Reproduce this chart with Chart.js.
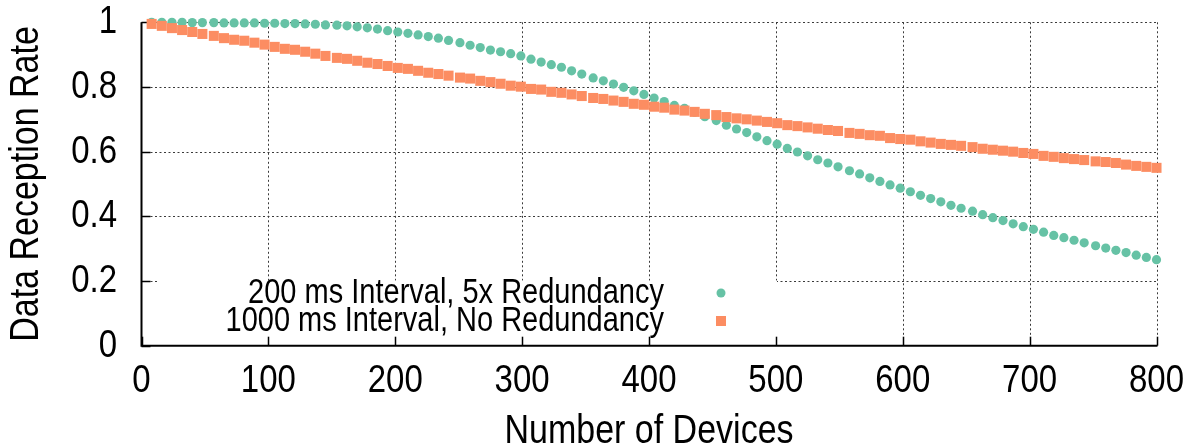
<!DOCTYPE html>
<html>
<head>
<meta charset="utf-8">
<script src="https://cdn.jsdelivr.net/npm/chart.js@4.4.1/dist/chart.umd.min.js"></script>
<style>
  html, body { margin: 0; padding: 0; background: #fff; }
  #wrap { width: 1197px; height: 447px; }
</style>
</head>
<body>
<div id="wrap"><canvas id="myChart" width="1197" height="447"></canvas></div>
<script>
// Number of devices (x positions of the samples)
var devices = [8, 16, 24, 32, 40, 48, 57, 65, 73, 81, 89, 97, 105, 113, 121, 129, 137, 145, 154, 162,
    170, 178, 186, 194, 202, 210, 218, 226, 234, 242, 251, 259, 267, 275, 283, 291, 299, 307, 315, 323,
    331, 339, 347, 356, 364, 372, 380, 388, 396, 404, 412, 420, 428, 436, 444, 453, 461, 469, 477, 485,
    493, 501, 509, 517, 525, 533, 541, 549, 558, 566, 574, 582, 590, 598, 606, 614, 622, 630, 638, 646,
    655, 663, 671, 679, 687, 695, 703, 711, 719, 727, 735, 743, 752, 760, 768, 776, 784, 792, 800];

// 200 ms Interval, 5x Redundancy
var rate200ms = [1.000, 1.000, 1.000, 1.000, 0.999, 0.999, 0.999, 0.998, 0.998, 0.998, 0.998, 0.997, 0.997, 0.996,
    0.996, 0.995, 0.994, 0.992, 0.991, 0.989, 0.986, 0.983, 0.979, 0.974, 0.970, 0.966, 0.961, 0.956, 0.951,
    0.944, 0.937, 0.929, 0.922,
    0.914, 0.909, 0.903, 0.896, 0.886, 0.877, 0.869, 0.861, 0.850, 0.840,
    0.828, 0.819, 0.809, 0.799, 0.788, 0.777, 0.766, 0.755, 0.743, 0.734, 0.722, 0.708, 0.696,
    0.682, 0.670, 0.659, 0.646, 0.634, 0.623, 0.610, 0.599, 0.587, 0.575, 0.565, 0.553, 0.541, 0.531, 0.519,
    0.508, 0.497, 0.487, 0.476, 0.465, 0.455, 0.445, 0.434, 0.425, 0.416, 0.405, 0.396, 0.387, 0.377,
    0.368, 0.360, 0.351, 0.341, 0.334, 0.326, 0.318, 0.309, 0.302, 0.295, 0.288, 0.280, 0.273, 0.266];

// 1000 ms Interval, No Redundancy
var rate1000ms = [0.995, 0.989, 0.982, 0.976, 0.970, 0.964, 0.958, 0.951, 0.946, 0.943, 0.937, 0.931, 0.924, 0.918,
    0.915, 0.909, 0.903, 0.896, 0.890, 0.887, 0.881, 0.875, 0.871, 0.865, 0.859, 0.856, 0.850, 0.844, 0.840,
    0.835, 0.829, 0.826, 0.819, 0.815, 0.810, 0.804, 0.801, 0.794, 0.792, 0.785, 0.782, 0.777, 0.772,
    0.766, 0.763, 0.758, 0.754, 0.748, 0.745, 0.739, 0.736, 0.730, 0.727, 0.723, 0.717, 0.713, 0.707,
    0.703, 0.700, 0.696, 0.692, 0.688, 0.682, 0.679, 0.675, 0.671, 0.667, 0.664, 0.658, 0.655, 0.651,
    0.649, 0.642, 0.639, 0.637, 0.632, 0.628, 0.624, 0.621, 0.618, 0.614, 0.609, 0.606, 0.603, 0.600,
    0.596, 0.593, 0.587, 0.584, 0.580, 0.577, 0.574, 0.570, 0.568, 0.565, 0.560, 0.556, 0.553, 0.550];

var seriesNames = ["200 ms Interval, 5x Redundancy", "1000 ms Interval, No Redundancy"];
var xTicks = [0, 100, 200, 300, 400, 500, 600, 700, 800];
var yTicks = [0, 0.2, 0.4, 0.6, 0.8, 1];
var yTickLabels = ["0", "0.2", "0.4", "0.6", "0.8", "1"];
var xTitle = "Number of Devices";
var yTitle = "Data Reception Rate";

var greenColor = "#66c2a5";
var orangeColor = "#fc8d62";
var fontFamily = "'Liberation Sans', Arial, Helvetica, sans-serif";
// gnuplot's text is a bit taller than the plain font
var textStretch = 1.2;

function toPoints(values) {
    var pts = [];
    for (var i = 0; i < devices.length; i++) {
        pts.push({ x: devices[i], y: values[i] });
    }
    return pts;
}

function tallText(ctx, text, x, y, angle) {
    ctx.save();
    ctx.translate(x, y);
    if (angle) ctx.rotate(angle);
    ctx.scale(1, textStretch);
    ctx.fillText(text, 0, 0);
    ctx.restore();
}

// gnuplot style frame: dotted grid, opaque key box, L-shaped border, inward ticks
var gnuplotFrame = {
    id: "gnuplotFrame",
    beforeDatasetsDraw: function(chart) {
        var ctx = chart.ctx;
        var area = chart.chartArea;
        var xs = chart.scales.x;
        var ys = chart.scales.y;
        ctx.save();

        // grid
        ctx.strokeStyle = "#3a3a3a";
        ctx.lineWidth = 1;
        ctx.setLineDash([2, 2.5]);
        xTicks.forEach(function(v) {
            if (v === 0) return;
            var px = Math.round(xs.getPixelForValue(v)) + 0.5;
            ctx.beginPath();
            ctx.moveTo(px, area.top);
            ctx.lineTo(px, area.bottom);
            ctx.stroke();
        });
        yTicks.forEach(function(v) {
            if (v === 0) return;
            var py = Math.round(ys.getPixelForValue(v)) + 0.5;
            ctx.beginPath();
            ctx.moveTo(area.left, py);
            ctx.lineTo(area.right, py);
            ctx.stroke();
        });
        ctx.setLineDash([]);

        // opaque key box
        var keyTop = ys.getPixelForValue(0.2) - 0.5;
        ctx.fillStyle = "#fff";
        ctx.fillRect(159, keyTop, 777 - 159, area.bottom - keyTop);

        // border (left + bottom)
        ctx.strokeStyle = "#000";
        ctx.lineWidth = 2;
        ctx.beginPath();
        ctx.moveTo(area.left, area.top);
        ctx.lineTo(area.left, area.bottom);
        ctx.lineTo(area.right + 1, area.bottom);
        ctx.stroke();

        // inward ticks
        ctx.lineWidth = 1.5;
        xTicks.forEach(function(v) {
            var px = Math.round(xs.getPixelForValue(v)) + 0.5;
            ctx.beginPath();
            ctx.moveTo(px, area.bottom);
            ctx.lineTo(px, area.bottom - 9);
            ctx.stroke();
        });
        yTicks.forEach(function(v) {
            var py = Math.round(ys.getPixelForValue(v)) + 0.5;
            ctx.beginPath();
            ctx.moveTo(area.left, py);
            ctx.lineTo(area.left + 9, py);
            ctx.stroke();
        });

        // tick labels
        ctx.fillStyle = "#000";
        ctx.font = "33px " + fontFamily;
        ctx.textAlign = "center";
        ctx.textBaseline = "middle";
        xTicks.forEach(function(v) {
            tallText(ctx, String(v), xs.getPixelForValue(v), 381);
        });
        ctx.textAlign = "right";
        yTicks.forEach(function(v, i) {
            tallText(ctx, yTickLabels[i], 117, ys.getPixelForValue(v));
        });

        // axis titles
        ctx.font = "34px " + fontFamily;
        ctx.textAlign = "center";
        tallText(ctx, xTitle, (area.left + area.right) / 2, 432);
        tallText(ctx, yTitle, 27, (area.top + area.bottom) / 2, -Math.PI / 2);

        // key
        ctx.font = "29px " + fontFamily;
        ctx.textAlign = "right";
        tallText(ctx, seriesNames[0], 664, 293);
        tallText(ctx, seriesNames[1], 664, 321);
        ctx.fillStyle = greenColor;
        ctx.beginPath();
        ctx.arc(721, 293, 4.5, 0, Math.PI * 2);
        ctx.fill();
        ctx.fillStyle = orangeColor;
        ctx.fillRect(716, 316, 10, 10);

        ctx.restore();
    }
};

var ctx = document.getElementById("myChart");
var myChart = new Chart(ctx, {
    type: "scatter",
    data: {
        datasets: [{
            label: seriesNames[0],
            data: toPoints(rate200ms),
            pointStyle: "circle",
            pointRadius: 4.6,
            pointBorderWidth: 0,
            backgroundColor: greenColor,
            borderColor: greenColor,
            clip: false,
            order: 1
        },
        {
            label: seriesNames[1],
            data: toPoints(rate1000ms),
            pointStyle: "rect",
            pointRadius: 7.1,
            pointBorderWidth: 0,
            backgroundColor: orangeColor,
            borderColor: orangeColor,
            clip: false,
            order: 0
        }]
    },
    options: {
        responsive: false,
        animation: false,
        events: [],
        layout: {
            padding: { left: 141.5, top: 22.3, right: 40.5, bottom: 101.3 }
        },
        plugins: {
            legend: { display: false },
            tooltip: { enabled: false }
        },
        scales: {
            x: { type: "linear", min: 0, max: 800, display: false },
            y: { type: "linear", min: 0, max: 1, display: false }
        }
    },
    plugins: [gnuplotFrame]
});
</script>
</body>
</html>
